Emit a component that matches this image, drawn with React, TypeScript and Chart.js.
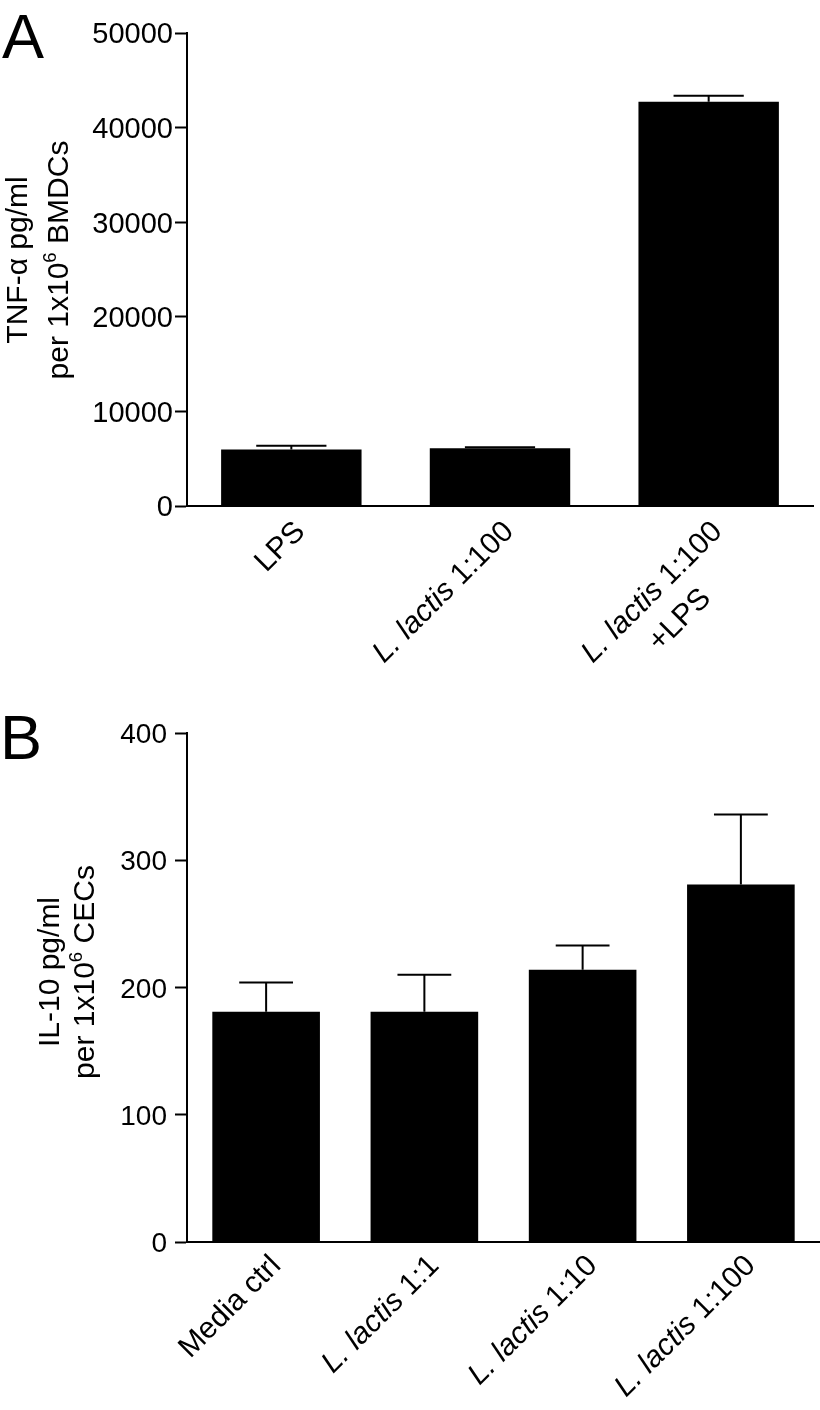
import React, { useEffect, useRef } from "react";
import { Chart, registerables } from "chart.js";

Chart.register(...registerables);

// ---------------- DATA ----------------
const tnfCategories = ["LPS", "*L. lactis* 1:100", "*L. lactis* 1:100\n+LPS"];
const tnfMeans = [5970, 6100, 42740];
const tnfSem = [405, 105, 630];
const tnfTicks = [0, 10000, 20000, 30000, 40000, 50000];
const tnfTitle = ["TNF-α pg/ml", "per 1x10^6^ BMDCs"];

const il10Categories = ["Media ctrl", "*L. lactis* 1:1", "*L. lactis* 1:10", "*L. lactis* 1:100"];
const il10Means = [181, 181, 214, 281];
const il10Sem = [23, 29, 19, 55];
const il10Ticks = [0, 100, 200, 300, 400];
const il10Title = ["IL-10 pg/ml", "per 1x10^6^ CECs"];

// ---------------- TEXT HELPERS ----------------
const FONT = '"Liberation Sans", Arial, Helvetica, sans-serif';

type Seg = { t: string; it: boolean; sup: boolean };
function parse(line: string): Seg[] {
  const out: Seg[] = [];
  const re = /(\*[^*]+\*|\^[^^]+\^)/g;
  let last = 0;
  let m: RegExpExecArray | null;
  while ((m = re.exec(line))) {
    if (m.index > last) out.push({ t: line.slice(last, m.index), it: false, sup: false });
    const s = m[0];
    out.push({ t: s.slice(1, -1), it: s[0] === "*", sup: s[0] === "^" });
    last = m.index + s.length;
  }
  if (last < line.length) out.push({ t: line.slice(last), it: false, sup: false });
  return out;
}
function segFont(s: Seg, size: number) {
  const sz = s.sup ? size * 0.62 : size;
  return `${s.it ? "italic " : ""}${sz}px ${FONT}`;
}
function measure(ctx: CanvasRenderingContext2D, line: string, size: number) {
  let w = 0;
  for (const s of parse(line)) {
    ctx.font = segFont(s, size);
    w += ctx.measureText(s.t).width;
  }
  return w;
}
function drawLine(ctx: CanvasRenderingContext2D, line: string, size: number, x: number, y: number) {
  ctx.textAlign = "left";
  ctx.textBaseline = "alphabetic";
  for (const s of parse(line)) {
    ctx.font = segFont(s, size);
    ctx.fillText(s.t, x, s.sup ? y - size * 0.4 : y);
    x += ctx.measureText(s.t).width;
  }
}
// lines centred on each other; block anchored by `align` at (x,y) (baseline of first line)
function drawBlock(
  ctx: CanvasRenderingContext2D,
  lines: string[],
  size: number,
  x: number,
  y: number,
  angle: number,
  align: "left" | "right" | "center",
  lineH: number
) {
  ctx.save();
  ctx.translate(x, y);
  ctx.rotate(angle);
  const ws = lines.map((l) => measure(ctx, l, size));
  const W = Math.max(...ws);
  const base = align === "right" ? -W : align === "center" ? -W / 2 : 0;
  lines.forEach((l, i) => {
    drawLine(ctx, l, size, base + (W - ws[i]) / 2, i * lineH);
  });
  ctx.restore();
}

// ---------------- CHART ----------------
type PanelCfg = {
  categories: string[];
  means: number[];
  sem: number[];
  ticks: number[];
  title: string[];
  letter: string;
  W: number;
  H: number;
  top: number;
  bottom: number;
  left: number;
  right: number;
  barPct: number;
  tickLen: number;
  tickPad: number;
  tickFont: number;
  titleFont: number;
  titleX: [number, number];
  titleY: number;
  labelFont: number;
  labelDX: number;
  labelDY: number;
  labelLH: number;
  letterSize: number;
  letterX: number;
  letterY: number;
};

function makeChart(canvas: HTMLCanvasElement, c: PanelCfg) {
  const extras = {
    id: "extras",
    afterDatasetsDraw(chart: any) {
      const ctx: CanvasRenderingContext2D = chart.ctx;
      const meta = chart.getDatasetMeta(0);
      const ys = chart.scales.y;
      ctx.save();
      ctx.strokeStyle = "#000";
      ctx.lineWidth = 2;
      meta.data.forEach((bar: any, i: number) => {
        const yTop = bar.y;
        const yErr = ys.getPixelForValue(c.means[i] + c.sem[i]);
        const half = bar.width / 4;
        ctx.beginPath();
        ctx.moveTo(bar.x, yTop);
        ctx.lineTo(bar.x, yErr);
        ctx.moveTo(bar.x - half, yErr);
        ctx.lineTo(bar.x + half, yErr);
        ctx.stroke();
      });
      ctx.restore();
    },
    afterDraw(chart: any) {
      const ctx: CanvasRenderingContext2D = chart.ctx;
      const ys = chart.scales.y;
      const xs = chart.scales.x;
      const area = chart.chartArea;
      ctx.save();
      ctx.fillStyle = "#000";
      // y tick labels
      ys.ticks.forEach((t: any) => {
        const py = ys.getPixelForValue(t.value);
        const capH = 0.716 * c.tickFont;
        drawBlock(ctx, [String(t.value)], c.tickFont, area.left - c.tickLen - c.tickPad, py + capH / 2, 0, "right", 0);
      });
      // y title
      drawBlock(ctx, [c.title[0]], c.titleFont, c.titleX[0], c.titleY, -Math.PI / 2, "center", 0);
      drawBlock(ctx, [c.title[1]], c.titleFont, c.titleX[1], c.titleY, -Math.PI / 2, "center", 0);
      // x labels
      c.categories.forEach((lab, i) => {
        const px = xs.getPixelForValue(i);
        drawBlock(ctx, lab.split("\n"), c.labelFont, px + c.labelDX, area.bottom + c.labelDY, -Math.PI / 4, "right", c.labelLH);
      });
      // panel letter
      drawBlock(ctx, [c.letter], c.letterSize, c.letterX, c.letterY, 0, "left", 0);
      ctx.restore();
    },
  };

  return new Chart(canvas, {
    type: "bar",
    data: {
      labels: c.categories.map((s) => s.replace(/\*/g, "").replace("\n", " ")),
      datasets: [
        {
          data: c.means,
          backgroundColor: "#000",
          borderWidth: 0,
          barPercentage: c.barPct,
          categoryPercentage: 1,
        },
      ],
    },
    options: {
      animation: false,
      responsive: false,
      devicePixelRatio: 1,
      events: [],
      layout: { padding: { left: 0, top: c.top, right: c.W - c.right, bottom: 0 } },
      plugins: { legend: { display: false }, tooltip: { enabled: false } },
      scales: {
        x: {
          type: "category",
          offset: true,
          grid: { display: false, drawTicks: false },
          border: { display: true, color: "#000", width: 2 },
          ticks: { display: false },
          afterFit: (s: any) => {
            s.height = c.H - c.bottom;
          },
        },
        y: {
          type: "linear",
          min: c.ticks[0],
          max: c.ticks[c.ticks.length - 1],
          afterBuildTicks: (s: any) => {
            s.ticks = c.ticks.map((v) => ({ value: v }));
          },
          ticks: { display: false },
          grid: {
            display: true,
            drawOnChartArea: false,
            drawTicks: true,
            tickLength: c.tickLen,
            tickWidth: 2,
            tickColor: "#000",
          },
          border: { display: true, color: "#000", width: 2 },
          afterFit: (s: any) => {
            s.width = c.left;
          },
        },
      },
    },
    plugins: [extras],
  } as any);
}

function Panel({ cfg, top }: { cfg: PanelCfg; top: number }) {
  const ref = useRef<HTMLCanvasElement>(null);
  useEffect(() => {
    if (!ref.current) return;
    const ch = makeChart(ref.current, cfg);
    return () => ch.destroy();
  }, []);
  return (
    <canvas
      ref={ref}
      width={cfg.W}
      height={cfg.H}
      style={{ position: "absolute", left: 0, top, width: cfg.W, height: cfg.H, display: "block" }}
    />
  );
}

const panelA: PanelCfg = {
  categories: tnfCategories,
  means: tnfMeans,
  sem: tnfSem,
  ticks: tnfTicks,
  title: tnfTitle,
  letter: "A",
  W: 820,
  H: 700,
  top: 33,
  bottom: 506,
  left: 187,
  right: 813,
  barPct: 0.673,
  tickLen: 12,
  tickPad: 2,
  tickFont: 29,
  titleFont: 30,
  titleX: [27, 68],
  titleY: 260,
  labelFont: 30,
  labelDX: 15,
  labelDY: 27,
  labelLH: 39,
  letterSize: 63,
  letterX: 2,
  letterY: 58,
};

const panelB: PanelCfg = {
  categories: il10Categories,
  means: il10Means,
  sem: il10Sem,
  ticks: il10Ticks,
  title: il10Title,
  letter: "B",
  W: 820,
  H: 710,
  top: 33,
  bottom: 542,
  left: 187,
  right: 820,
  barPct: 0.68,
  tickLen: 12,
  tickPad: 8,
  tickFont: 28,
  titleFont: 30,
  titleX: [59, 94],
  titleY: 272,
  labelFont: 30,
  labelDX: 16,
  labelDY: 25,
  labelLH: 39,
  letterSize: 63,
  letterX: 0,
  letterY: 59,
};

export default function App() {
  return (
    <div style={{ position: "absolute", left: 0, top: 0, width: 820, height: 1410, background: "#fff" }}>
      <Panel cfg={panelA} top={0} />
      <Panel cfg={panelB} top={700} />
    </div>
  );
}
